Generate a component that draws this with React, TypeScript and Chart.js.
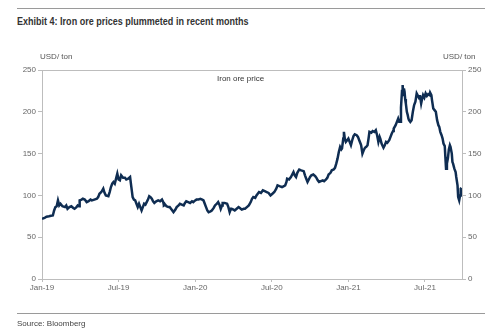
import React, { useEffect, useRef } from "react";
import { Chart, registerables } from "chart.js";

Chart.register(...registerables);

// Months since Jan-2019 (fractional) and iron ore price (USD/ton)
const months = [
  0, 0.2, 0.35, 0.55, 0.7, 0.85, 0.95, 1.05, 1.15, 1.25, 1.35, 1.45, 1.6, 1.8, 1.9, 2.0, 2.15, 2.3, 2.45, 2.55,
  2.7, 2.8, 2.9, 2.95, 3.1, 3.2, 3.35, 3.5, 3.65, 3.8, 3.9, 4.1, 4.3, 4.4, 4.5, 4.65, 4.8, 4.9, 5.0, 5.2,
  5.3, 5.4, 5.5, 5.6, 5.7, 5.8, 5.9, 6.0, 6.1, 6.2, 6.35, 6.5, 6.6, 6.75, 6.9, 7.0, 7.1, 7.2, 7.3, 7.4,
  7.5, 7.6, 7.7, 7.8, 7.9, 8.0, 8.1, 8.2, 8.3, 8.4, 8.5, 8.6, 8.7, 8.8, 8.95, 9.1, 9.25, 9.4, 9.5, 9.55,
  9.65, 9.75, 9.9, 10.0, 10.15, 10.3, 10.45, 10.55, 10.7, 10.8, 10.95, 11.1, 11.2, 11.3, 11.45, 11.6, 11.75, 11.85, 12.0, 12.1,
  12.25, 12.4, 12.55, 12.65, 12.75, 12.85, 12.95, 13.05, 13.2, 13.3, 13.45, 13.55, 13.7, 13.8, 13.9, 14.0, 14.1, 14.15, 14.3, 14.5,
  14.6, 14.7, 14.8, 14.85, 15.0, 15.1, 15.25, 15.4, 15.5, 15.65, 15.8, 15.9, 16.05, 16.2, 16.35, 16.45, 16.55, 16.7, 16.8, 16.9,
  17.0, 17.15, 17.3, 17.45, 17.6, 17.75, 17.9, 18.05, 18.2, 18.35, 18.45, 18.6, 18.8, 18.95, 19.05, 19.15, 19.2, 19.35, 19.5, 19.6,
  19.7, 19.8, 19.9, 20.0, 20.15, 20.3, 20.5, 20.6, 20.7, 20.8, 20.9, 21.0, 21.1, 21.25, 21.4, 21.5, 21.6, 21.7, 21.85, 22.0,
  22.1, 22.25, 22.35, 22.45, 22.6, 22.7, 22.85, 22.95, 23.05, 23.15, 23.25, 23.35, 23.45, 23.5, 23.6, 23.65, 23.72, 23.8, 23.9, 24.0,
  24.1, 24.2, 24.3, 24.4, 24.5, 24.65, 24.75, 24.85, 24.95, 25.0, 25.1, 25.2, 25.3, 25.4, 25.5, 25.58, 25.65, 25.8, 25.9, 26.05,
  26.15, 26.25, 26.35, 26.45, 26.5, 26.6, 26.75, 26.85, 26.95, 27.05, 27.2, 27.3, 27.4, 27.5, 27.55, 27.7, 27.8, 27.9, 27.98, 28.05,
  28.12, 28.2, 28.25, 28.3, 28.35, 28.4, 28.45, 28.5, 28.58, 28.65, 28.7, 28.75, 28.85, 28.95, 29.05, 29.15, 29.25, 29.35, 29.45, 29.55,
  29.6, 29.7, 29.78, 29.85, 29.95, 30.05, 30.15, 30.25, 30.35, 30.4, 30.5, 30.55, 30.65, 30.75, 30.85, 30.95, 31.05, 31.12, 31.2, 31.3,
  31.38, 31.45, 31.55, 31.6, 31.65, 31.72, 31.8, 31.87, 31.95, 32.0, 32.1, 32.15, 32.2, 32.3, 32.4, 32.45, 32.55, 32.6, 32.68, 32.75,
  32.8, 32.85,
];

const prices = [
  72, 73, 74.5, 75, 75.6, 76, 82, 86, 87, 94, 88, 90, 87, 86, 88, 84, 86, 87, 85, 84,
  86, 88, 87, 94, 95, 96, 95, 92, 93, 95, 94, 95, 96, 98, 102, 104, 108, 103, 100, 99,
  104, 110, 114, 116, 114, 120, 126, 119, 118, 124, 121, 121, 119, 120, 122, 110, 98, 95, 94, 90,
  86, 90, 86, 82, 86, 90, 89, 92, 95, 99, 98, 96, 93, 91, 93, 94, 93, 95, 92, 88,
  89, 87, 86, 86, 83, 80, 83, 86, 88, 90, 89, 88, 91, 93, 92, 91, 93, 92, 94, 95,
  95, 96, 95, 94, 90, 86, 82, 80, 81, 82, 85, 88, 90, 92, 89, 84, 88, 91, 91, 90,
  86, 80, 84, 84, 83, 82, 84, 86, 85, 83, 84, 84, 86, 88, 92, 96, 98, 97, 100, 102,
  104, 103, 106, 105, 104, 103, 100, 102, 104, 108, 112, 111, 110, 111, 112, 116, 120, 119, 122, 125,
  128, 124, 122, 127, 131, 130, 129, 124, 120, 116, 119, 122, 124, 125, 123, 121, 118, 116, 117, 118,
  117, 119, 121, 125, 127, 130, 131, 133, 138, 144, 152, 158, 155, 156, 168, 176, 168, 164, 166, 168,
  164, 160, 166, 171, 173, 172, 170, 166, 162, 160, 150, 154, 157, 158, 160, 168, 176, 175, 177, 176,
  178, 172, 164, 170, 168, 162, 157, 160, 164, 163, 166, 170, 174, 177, 180, 184, 188, 192, 188, 188,
  205, 225, 232, 220, 228, 224, 215, 210, 200, 196, 192, 190, 188, 190, 200, 208, 212, 222, 219, 216,
  220, 210, 216, 220, 217, 222, 219, 221, 220, 223, 220, 214, 204, 202, 200, 190, 184, 182, 176, 172,
  168, 162, 159, 145, 132, 138, 145, 155, 160, 158, 150, 140, 138, 132, 128, 122, 112, 98, 94, 100,
  108, 109,
];

const tickMonths = [0, 6, 12, 18, 24, 30];
const tickLabels = ["Jan-19", "Jul-19", "Jan-20", "Jul-20", "Jan-21", "Jul-21"];
const yTicks = [0, 50, 100, 150, 200, 250];

const FONT = "'Liberation Sans', Arial, sans-serif";

export default function App() {
  const canvasRef = useRef<HTMLCanvasElement | null>(null);

  useEffect(() => {
    const canvas = canvasRef.current;
    if (!canvas) return;
    const boxPlugin = {
      id: "boxTop",
      beforeDatasetsDraw(chart: any) {
        const { ctx, chartArea } = chart;
        ctx.save();
        ctx.strokeStyle = "#bdbdbd";
        ctx.lineWidth = 1;
        ctx.beginPath();
        ctx.moveTo(chartArea.left, Math.round(chartArea.top) + 0.5);
        ctx.lineTo(chartArea.right, Math.round(chartArea.top) + 0.5);
        ctx.stroke();
        ctx.restore();
      },
    };
    const tickFont = { family: FONT, size: 8 };
    const yCommon = {
      type: "linear" as const,
      min: 0,
      max: 250,
      afterBuildTicks: (s: any) => {
        s.ticks = yTicks.map((v) => ({ value: v }));
      },
      grid: { display: true, drawOnChartArea: false, tickLength: 4, color: "#bdbdbd" },
      border: { display: true, color: "#bdbdbd" },
      ticks: { font: tickFont, color: "#666", padding: 2 },
    };
    const chart = new Chart(canvas, {
      type: "line",
      data: {
        datasets: [
          {
            label: "Iron ore price",
            data: months.map((m, i) => ({ x: m, y: prices[i] })),
            borderColor: "#0f2d52",
            borderWidth: 2.5,
            pointRadius: 0,
            tension: 0,
            yAxisID: "y",
          },
        ],
      },
      options: {
        animation: false,
        responsive: false,
        devicePixelRatio: 1,
        parsing: false as any,
        layout: { padding: { top: 70, left: 0, right: 0, bottom: 0 } },
        plugins: { legend: { display: false }, tooltip: { enabled: false } },
        scales: {
          x: {
            type: "linear",
            min: 0,
            max: 32.9,
            afterBuildTicks: (s: any) => {
              s.ticks = tickMonths.map((v) => ({ value: v }));
            },
            afterFit: (s: any) => {
              s.height = 56;
            },
            grid: { display: true, drawOnChartArea: false, tickLength: 3, color: "#bdbdbd" },
            border: { display: true, color: "#bdbdbd" },
            ticks: {
              font: tickFont,
              color: "#666",
              padding: 1,
              maxRotation: 0,
              callback: (v: any) => {
                const i = tickMonths.indexOf(Number(v));
                return i >= 0 ? tickLabels[i] : "";
              },
            },
          },
          y: {
            ...yCommon,
            position: "left",
            afterFit: (s: any) => {
              s.width = 42;
            },
          },
          y2: {
            ...yCommon,
            position: "right",
            afterFit: (s: any) => {
              s.width = 38;
            },
          },
        },
      } as any,
      plugins: [boxPlugin],
    });
    return () => chart.destroy();
  }, []);

  const rule: React.CSSProperties = {
    position: "absolute",
    left: 17,
    width: 468,
    height: 0,
    borderTop: "1px solid #9a9a9a",
  };
  const small: React.CSSProperties = {
    position: "absolute",
    fontFamily: FONT,
    fontSize: 8,
    color: "#555",
    whiteSpace: "nowrap",
    lineHeight: "10px",
  };

  return (
    <div style={{ position: "fixed", left: 0, top: 0, width: 500, height: 335, background: "#fff" }}>
      <div style={{ ...rule, top: 8 }} />
      <div
        style={{
          position: "absolute",
          left: 17,
          top: 14,
          fontFamily: FONT,
          fontWeight: "bold",
          fontSize: 11,
          lineHeight: "14px",
          color: "#333",
          whiteSpace: "nowrap",
          transform: "scaleX(0.82)",
          transformOrigin: "left center",
        }}
      >
        Exhibit 4: Iron ore prices plummeted in recent months
      </div>
      <canvas ref={canvasRef} width={500} height={335} style={{ position: "absolute", left: 0, top: 0 }} />
      <div style={{ ...small, left: 40, top: 52 }}>USD/ ton</div>
      <div style={{ ...small, left: 443, top: 52 }}>USD/ ton</div>
      <div style={{ ...small, left: 217, top: 74, color: "#333" }}>Iron ore price</div>
      <div style={{ ...rule, top: 313 }} />
      <div style={{ ...small, left: 17, top: 319, color: "#444" }}>Source: Bloomberg</div>
    </div>
  );
}
